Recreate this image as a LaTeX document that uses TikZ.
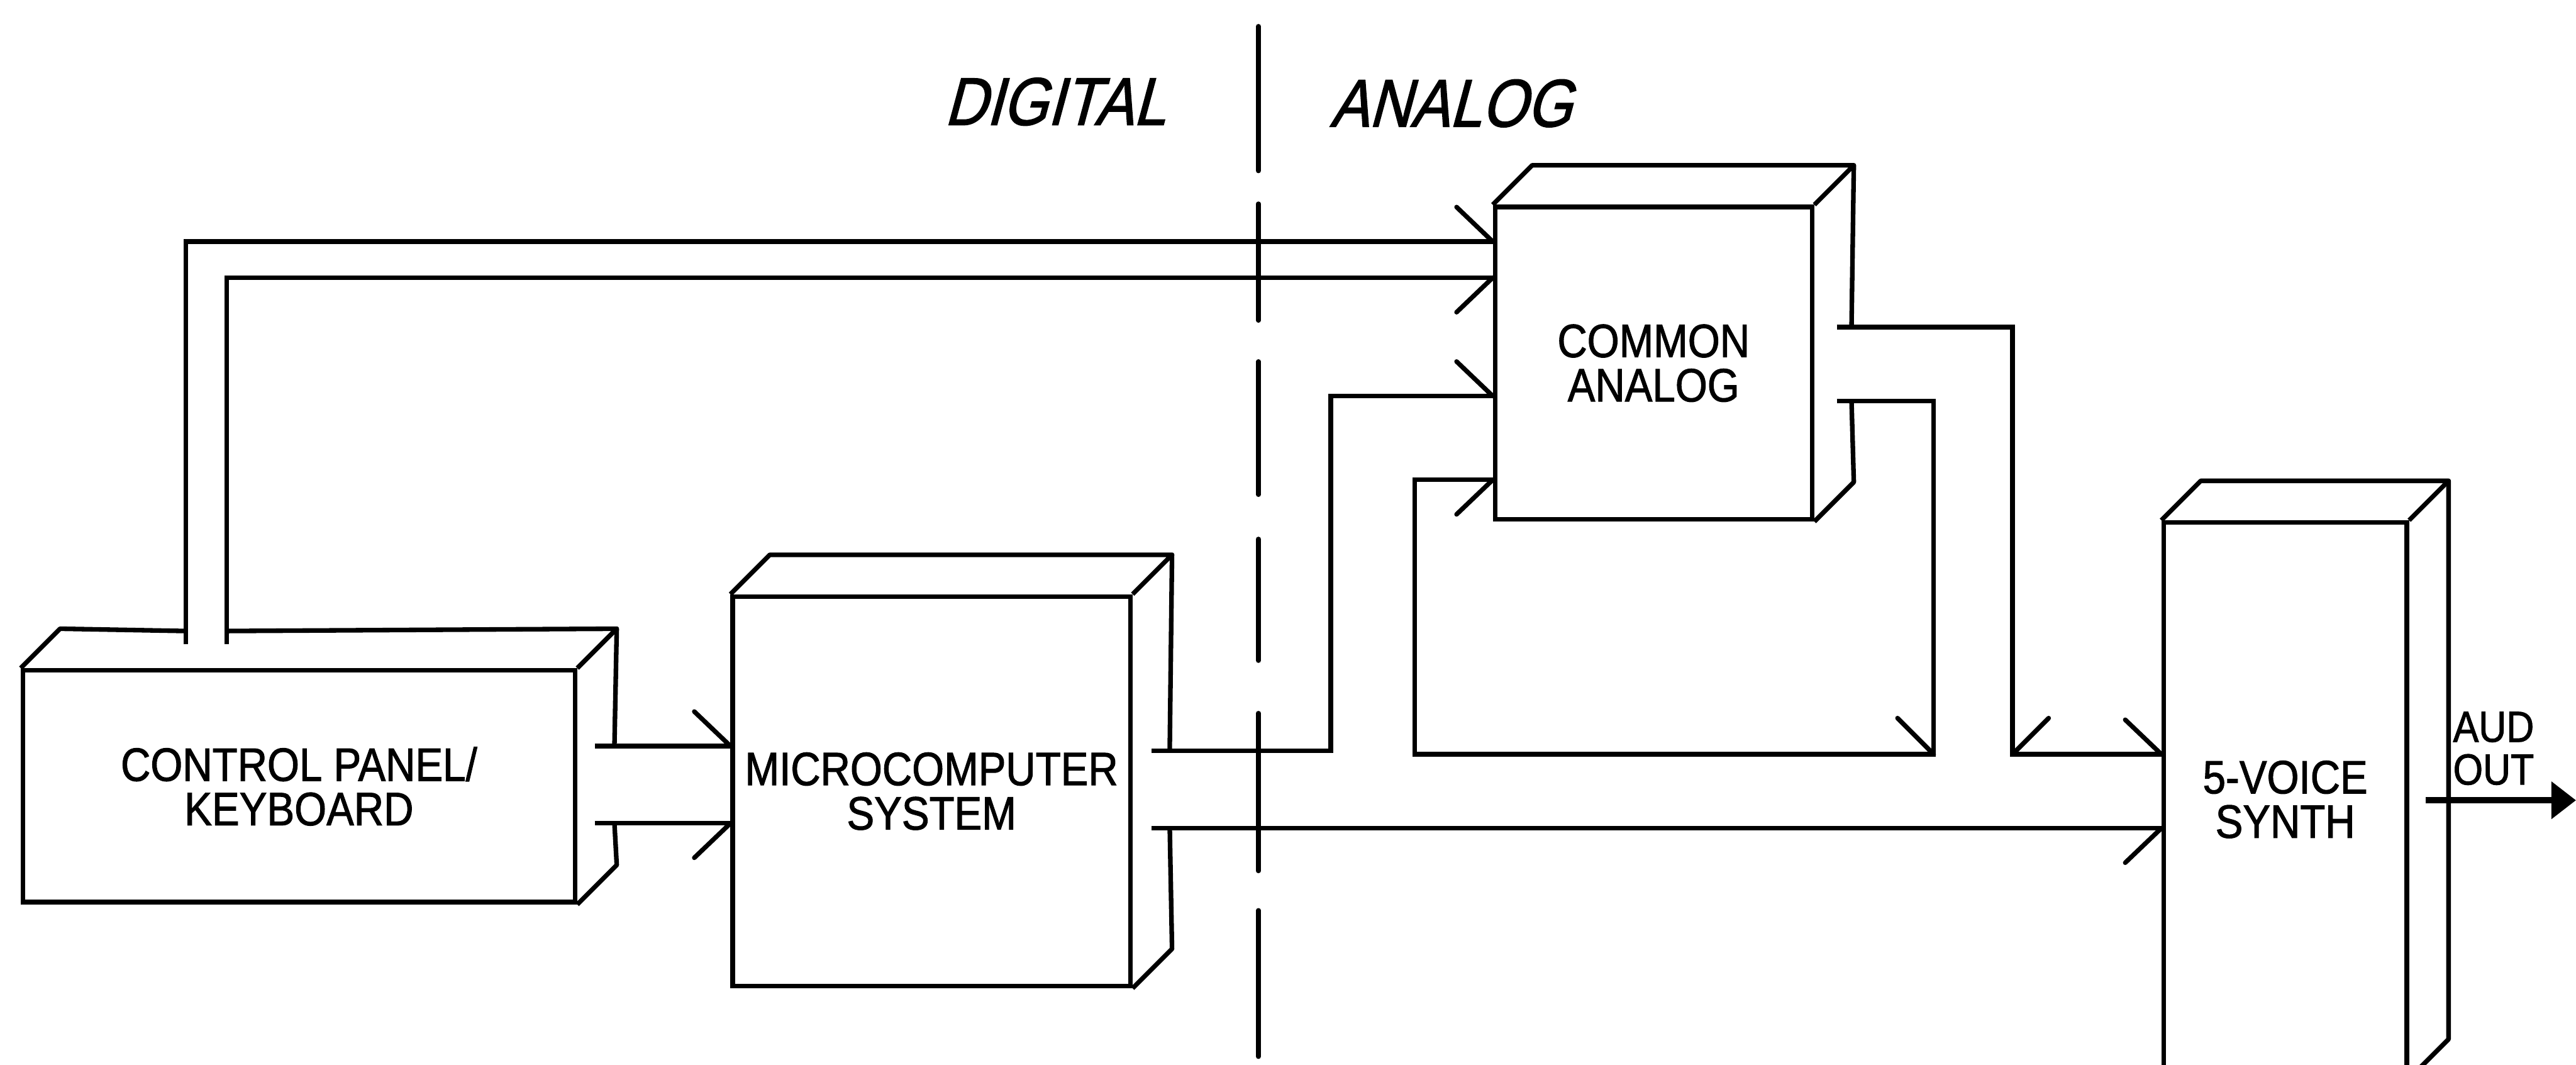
\documentclass[tikz,border=0pt]{standalone}
\usepackage{fontspec}
\setmainfont[FakeStretch=0.88]{Liberation Sans}
\newfontfamily\blockfam[FakeStretch=0.88,FakeBold=1.4]{Liberation Sans}
\newfontfamily\zonefam[FakeStretch=0.86,FakeBold=1.6,FakeSlant=0.27]{Liberation Sans}
\usetikzlibrary{arrows.meta,calc}

\newcommand{\blockfont}{\blockfam\fontsize{28.5}{27}\selectfont}
\newcommand{\zonefont}{\zonefam\fontsize{41}{41}\selectfont}

\begin{document}
\begin{tikzpicture}[x=1pt,y=-1pt,line join=miter,
  wall/.style={line width=2.8pt},
  side/.style={line width=2.8pt,line join=round},
  barb/.style={line width=2.8pt,line cap=round},
  face/.style={draw,line width=2.8pt,inner sep=0pt,align=center,font=\blockfont},
  zone/.style={inner sep=0pt,anchor=base,font=\zonefont}]

\useasboundingbox (0,0) rectangle (1568,648);

% Depth of the block sides (pt)
\def\depth{24}

% ---- BLOCKS ----

% Control panel / keyboard (top face open where the bus leaves)
\node[face,minimum width=336pt,minimum height=141pt] (panel) at (182,478.5) {CONTROL PANEL/\\KEYBOARD};
\draw[side] (panel.north west) -- ++(\depth,-\depth) -- (113,384);
\draw[side] (138,384) -- ($(panel.north east)+(\depth,-\depth)$) -- (panel.north east);
\draw[side] ($(panel.north east)+(\depth,-\depth)$) -- (374,454);
\draw[side] (374,501) -- ($(panel.south east)+(\depth,-\depth)$) -- (panel.south east);

% Microcomputer system
\node[face,minimum width=242pt,minimum height=237pt] (micro) at (567,481.5) {MICROCOMPUTER\\SYSTEM};
\draw[side] (micro.north west) -- ++(\depth,-\depth) -- ($(micro.north east)+(\depth,-\depth)$) -- (micro.north east);
\draw[side] ($(micro.north east)+(\depth,-\depth)$) -- (712,456);
\draw[side] (712,503) -- ($(micro.south east)+(\depth,-\depth)$) -- (micro.south east);

% Common analog
\node[face,minimum width=193pt,minimum height=190pt] (common) at (1006.5,221) {COMMON\\ANALOG};
\draw[side] (common.north west) -- ++(\depth,-\depth) -- ($(common.north east)+(\depth,-\depth)$) -- (common.north east);
\draw[side] ($(common.north east)+(\depth,-\depth)$) -- (1127,199);
\draw[side] (1127,244) -- ($(common.south east)+(\depth,-\depth)$) -- (common.south east);

% 5-voice synth (runs off the bottom)
\node[face,minimum width=148pt,minimum height=337pt] (synth) at (1391,486.5) {5-VOICE\\SYNTH};
\draw[side] (synth.north west) -- ++(\depth,-\depth) -- ($(synth.north east)+(\depth,-\depth)$) -- (synth.north east);
\draw[side] ($(synth.north east)+(\depth,-\depth)$) -- ($(synth.south east)+(\depth,-\depth)$) -- (synth.south east);

% ---- DIGITAL / ANALOG DIVIDE ----
\node[zone] (digital) at (642,76) {DIGITAL};
\node[zone] (analog) at (883,77) {ANALOG};
\foreach \a/\b in {16/104,124/195,220/301,328/402,434/530,554/643}
  \draw[barb] (766,\a) -- (766,\b);

% ---- BUSES ----

% Keyboard to common analog
\draw[wall] (113,392) |- (common.west |- 0,147);
\draw[wall] (138,392) |- (common.west |- 0,169);
\draw[barb] (common.west |- 0,147) -- ++(-22,-21);
\draw[barb] (common.west |- 0,169) -- ++(-22,21);

% Keyboard to microcomputer
\draw[wall] (362,454) -- (micro.west |- 0,454);
\draw[wall] (362,501) -- (micro.west |- 0,501);
\draw[barb] (micro.west |- 0,454) -- ++(-22,-21);
\draw[barb] (micro.west |- 0,501) -- ++(-22,21);

% Microcomputer to common analog and synth
\draw[wall] (701,457) -- (810,457) -- (810,241) -- (common.west |- 0,241);
\draw[wall] (701,504) -- (synth.west |- 0,504);
\draw[barb] (common.west |- 0,241) -- ++(-22,-21);
\draw[barb] (synth.west |- 0,504) -- ++(-22,21);

% Common analog out: down, back into itself and on to the synth
\draw[wall] (1118,199) -| (1225,459) -- (synth.west |- 0,459);
\draw[wall] (1118,244) -| (1177,459) -| (861,292) -- (common.west |- 0,292);
\draw[barb] (1225,459) -- ++(22,-22);
\draw[barb] (1177,459) -- ++(-22,-22);
\draw[barb] (synth.west |- 0,459) -- ++(-22,-21);
\draw[barb] (common.west |- 0,292) -- ++(-22,21);

% Audio output
\coordinate (audio) at (1568,487);
\draw[line width=4pt,-{Triangle[length=15pt,width=22pt]}] ($(synth.east)+(10,0.5)$) -- (audio);
\node[font=\blockfam\fontsize{26.5}{26}\selectfont,align=left,inner sep=0pt,anchor=north west] (audout) at (1493,433) {AUD\\OUT};

\end{tikzpicture}
\end{document}
